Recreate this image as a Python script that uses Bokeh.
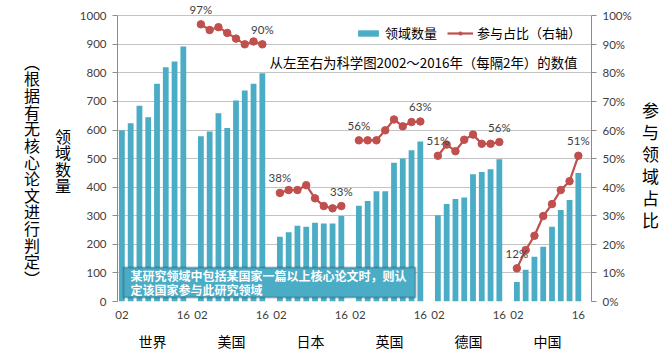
from bokeh.plotting import figure
from bokeh.layouts import row
from bokeh.models import (Range1d, LinearAxis, FixedTicker, PrintfTickFormatter,
                          Label, Legend, LegendItem, BoxAnnotation)
from bokeh.core.properties import value
from bokeh.embed import file_html
from bokeh.resources import INLINE

countries = ["世界", "美国", "日本", "英国", "德国", "中国"]
years = ["02", "04", "06", "08", "10", "12", "14", "16"]

counts_world = [599, 624, 685, 645, 762, 820, 840, 892]
counts_us = [578, 595, 659, 607, 703, 738, 762, 799]
counts_jp = [227, 242, 265, 262, 276, 273, 273, 299]
counts_uk = [335, 352, 386, 386, 486, 500, 529, 560]
counts_de = [302, 341, 359, 364, 445, 453, 463, 498]
counts_cn = [68, 111, 157, 192, 262, 320, 355, 450]

share_us = [97, 95, 96, 94, 92, 90, 91, 90]
share_jp = [38, 39, 39, 40.7, 36.1, 33.4, 32.6, 33.4]
share_uk = [56.4, 56.4, 56.4, 59.9, 63.7, 61.3, 62.8, 63]
share_de = [51, 54.9, 52.6, 56.6, 58.4, 55.2, 55.2, 55.8]
share_cn = [11.6, 18.0, 23.0, 29.9, 34.1, 39.0, 42.1, 51]

counts = [counts_world, counts_us, counts_jp, counts_uk, counts_de, counts_cn]
shares = [None, share_us, share_jp, share_uk, share_de, share_cn]

left_ticks = [0, 100, 200, 300, 400, 500, 600, 700, 800, 900, 1000]
right_ticks = [0, 10, 20, 30, 40, 50, 60, 70, 80, 90, 100]

left_title = "︵根据有无核心论文进行判定︶"
left_title2 = "领域数量"
right_title = "参与领域占比"
subtitle = "从左至右为科学图2002～2016年（每隔2年）的数值"
note_lines = ["某研究领域中包括某国家一篇以上核心论文时，则认", "定该国家参与此研究领域"]

BAR = "#4BACC6"
RED = "#C0504D"
GRID = "#C3C3C3"
AX = "#8C8C8C"
TXT = "#404040"
FONT = "Lato"
CJK = "Noto Sans CJK SC"

H = 353
BOTTOM = 51
SLOT = len(years) + 1  # one empty category after every country
FRAME_H = H - BOTTOM   # frame from the canvas top to the zero line
Y_TOP = 1000 * FRAME_H / 286.7   # headroom above 1000 for the labels

p = figure(width=561, height=H, output_backend="svg", toolbar_location=None,
           x_range=Range1d(0, SLOT * len(countries)), y_range=Range1d(0, Y_TOP),
           min_border_left=42, min_border_right=45, min_border_top=0,
           min_border_bottom=BOTTOM)
p.outline_line_color = None
p.background_fill_color = "white"
p.extra_y_ranges = {"pct": Range1d(0, Y_TOP / 10)}

# bars
bx, bt = [], []
for g, vals in enumerate(counts):
    for i, v in enumerate(vals):
        bx.append(g * SLOT + i + 0.5)
        bt.append(v)
bars = p.vbar(x=bx, top=bt, width=0.66, color=BAR, line_color=None)

# share lines
line_refs = []
lx, ly, lt = [], [], []
for g, vals in enumerate(shares):
    if vals is None:
        continue
    xs = [g * SLOT + i + 0.5 for i in range(len(vals))]
    ln = p.line(xs, vals, line_color=RED, line_width=2.2, y_range_name="pct")
    sc = p.scatter(xs, vals, size=7.5, color=RED, y_range_name="pct")
    line_refs.append((ln, sc))
    for k in (0, len(vals) - 1):
        lx.append(xs[k])
        ly.append(vals[k])
        lt.append(f"{round(vals[k])}%")
p.text(lx, ly, text=lt, y_range_name="pct", text_font=value(FONT),
       text_font_size="11.5px", text_color=TXT, text_align="center",
       text_baseline="middle", y_offset=-15)

# axes
p.xaxis.visible = False
p.yaxis.ticker = FixedTicker(ticks=left_ticks)
p.yaxis.bounds = (0, 1000)
p.yaxis.axis_line_color = AX
p.yaxis.major_tick_line_color = AX
p.yaxis.major_tick_in = 0
p.yaxis.major_tick_out = 5
p.yaxis.minor_tick_line_color = None
p.yaxis.major_label_standoff = 6
p.yaxis.major_label_text_font = FONT
p.yaxis.major_label_text_font_size = "11.5px"
p.yaxis.major_label_text_color = TXT

p.ygrid.ticker = FixedTicker(ticks=left_ticks)
p.ygrid.grid_line_color = GRID
p.xgrid.grid_line_color = None

ra = LinearAxis(y_range_name="pct", ticker=FixedTicker(ticks=right_ticks),
                formatter=PrintfTickFormatter(format="%d%%"), bounds=(0, 100))
ra.axis_line_color = AX
ra.major_tick_line_color = AX
ra.major_tick_in = 0
ra.major_tick_out = 5
ra.minor_tick_line_color = None
ra.major_label_standoff = 6
ra.major_label_text_font = FONT
ra.major_label_text_font_size = "11.5px"
ra.major_label_text_color = TXT
p.add_layout(ra, "right")

yr_ticks, yr_labels = [], {}
for g in range(len(countries)):
    for k in (0, len(years) - 1):
        t = g * SLOT + k + 0.5
        yr_ticks.append(t)
        yr_labels[t] = years[k]
xa = LinearAxis(ticker=FixedTicker(ticks=yr_ticks), major_label_overrides=yr_labels)
xa.axis_line_color = None
xa.major_tick_line_color = None
xa.minor_tick_line_color = None
xa.major_label_standoff = 3
xa.major_label_text_font = FONT
xa.major_label_text_font_size = "11.5px"
xa.major_label_text_color = TXT
p.add_layout(xa, "below")

c_ticks, c_labels = [], {}
for g, name in enumerate(countries):
    t = g * SLOT + (len(years) - 1) / 2 + 0.5
    c_ticks.append(t)
    c_labels[t] = name
ca = LinearAxis(ticker=FixedTicker(ticks=c_ticks), major_label_overrides=c_labels)
ca.axis_line_color = None
ca.major_tick_line_color = None
ca.minor_tick_line_color = None
ca.major_label_standoff = 3
ca.major_label_text_font = CJK
ca.major_label_text_font_size = "14px"
ca.major_label_text_color = "black"
p.add_layout(ca, "below")

# legend
legend = Legend(items=[LegendItem(label="领域数量", renderers=[bars]),
                       LegendItem(label="参与占比（右轴）", renderers=list(line_refs[0]))],
                orientation="horizontal", location=(238, 259),
                background_fill_alpha=0, border_line_color=None,
                label_text_font=CJK, label_text_font_size="13px",
                label_text_color="black", glyph_width=26, glyph_height=8,
                spacing=10, padding=0, margin=0, label_standoff=4)
p.add_layout(legend, "center")

# subtitle
p.add_layout(Label(x=152, y=240, x_units="screen", y_units="screen",
                   text=subtitle, text_font=CJK, text_font_size="13.4px",
                   text_color="black", text_baseline="middle", text_align="left"))

# note box
p.add_layout(BoxAnnotation(left=6, right=298, bottom=4, top=34,
                           left_units="screen", right_units="screen",
                           bottom_units="screen", top_units="screen",
                           fill_color=BAR, fill_alpha=1.0,
                           line_color="#1E3A48", line_width=2))
for k, line in enumerate(note_lines):
    p.add_layout(Label(x=13, y=26 - k * 13.6, x_units="screen", y_units="screen",
                       text=line, text_font=CJK, text_font_size="12px",
                       text_font_style="bold", text_color="white",
                       text_align="left", text_baseline="middle"))


# side panels carrying the stacked (upright) axis titles; their frames are
# aligned with the main frame, so their y range spans the same pixel rows
def side_panel(width, columns):
    f = figure(width=width, height=H, output_backend="svg", toolbar_location=None,
               x_range=Range1d(0, width), y_range=Range1d(FRAME_H, 0),
               min_border_left=0, min_border_right=0, min_border_top=0,
               min_border_bottom=BOTTOM)
    f.axis.visible = False
    f.grid.grid_line_color = None
    f.outline_line_color = None
    for chars, x, y_first, step, size in columns:
        f.text([x] * len(chars), [y_first + k * step for k in range(len(chars))],
               text=list(chars), text_font=value(CJK), text_font_size=size,
               text_color="black", text_align="center", text_baseline="middle")
    return f


left_fig = side_panel(75, [(left_title, 31.5, 61.4, 16.7, "16px"),
                           (left_title2, 62.5, 135.5, 16.7, "16px")])
right_fig = side_panel(24, [(right_title, 14, 109, 22.2, "17px")])

layout = row(left_fig, p, right_fig)
open("out.html", "w").write(file_html(layout, INLINE))
